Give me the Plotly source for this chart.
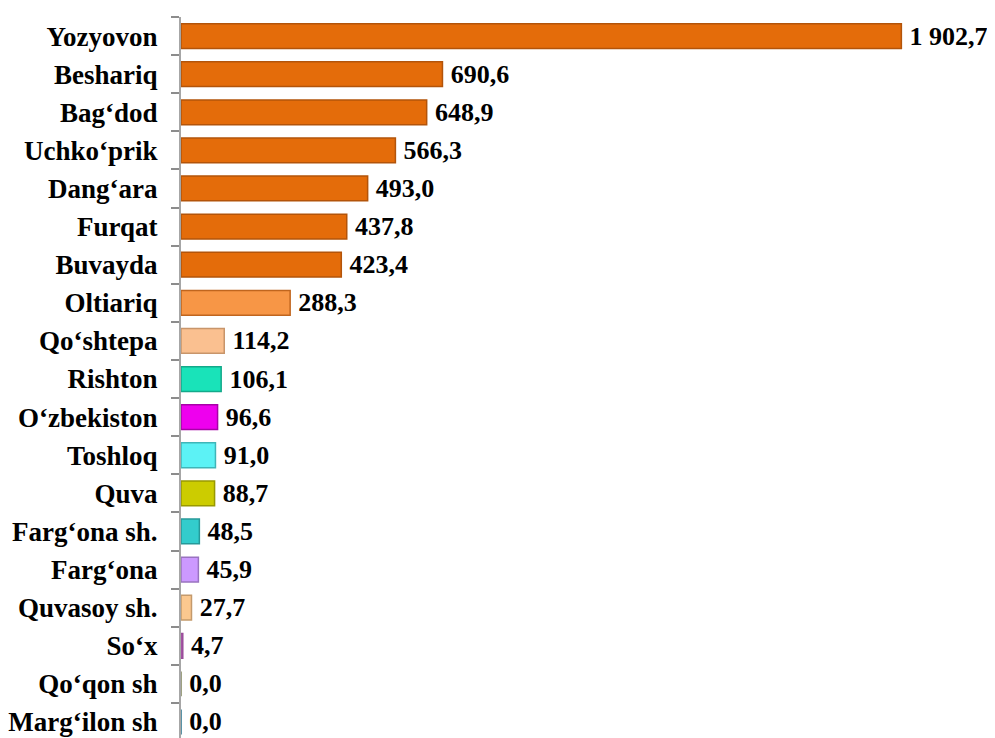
import plotly.graph_objects as go

categories = ["Yozyovon", "Beshariq", "Bag‘dod", "Uchko‘prik", "Dang‘ara", "Furqat", "Buvayda",
              "Oltiariq", "Qo‘shtepa", "Rishton", "O‘zbekiston", "Toshloq", "Quva",
              "Farg‘ona sh.", "Farg‘ona", "Quvasoy sh.", "So‘x", "Qo‘qon sh", "Marg‘ilon sh"]
values = [1902.7, 690.6, 648.9, 566.3, 493.0, 437.8, 423.4,
          288.3, 114.2, 106.1, 96.6, 91.0, 88.7,
          48.5, 45.9, 27.7, 4.7, 0.0, 0.0]
colors = ["#E46C0A"] * 7 + ["#F79646", "#FAC090", "#19E3B9", "#EE00EE", "#5CF2F5", "#CCCC00",
                            "#33CCCC", "#CC99FF", "#FBC88F", "#CC66CC", "#A9AE77", "#2E96B8"]
edge_colors = ["#B3540A"] * 7 + ["#C0651E", "#C8956A", "#13A98A", "#A800A8", "#3FB5B8", "#999900",
                                 "#269999", "#9973C0", "#C49A6C", "#994D99", "#7F8359", "#23708A"]

fig = go.Figure(go.Bar(
    y=categories, x=values, orientation="h",
    marker=dict(color=colors, line=dict(color=edge_colors, width=1.5)),
    texttemplate="\u2009%{x:,.1f}", textposition="outside", constraintext="none",
    textfont=dict(family="Liberation Serif", size=26, color="black", weight="bold"),
    cliponaxis=False,
))

fig.update_layout(
    width=987, height=730,
    margin=dict(l=173, r=0, t=9, b=0),
    plot_bgcolor="white", paper_bgcolor="white",
    separators=", ",
    bargap=0.35,
    showlegend=False,
    xaxis=dict(range=[0, 2150], visible=False, automargin=False),
    yaxis=dict(
        type="category", range=[18.42, -0.5], automargin=False,
        showline=True, linecolor="#A6A6A6", linewidth=2,
        ticks="outside", tickson="boundaries", ticklen=8, tickcolor="#8C8C8C", tickwidth=1.5,
        ticklabelstandoff=16,
        tickfont=dict(family="Liberation Serif", size=27, color="black", weight="bold"),
        showgrid=False,
    ),
)

fig.write_html("out.html")
